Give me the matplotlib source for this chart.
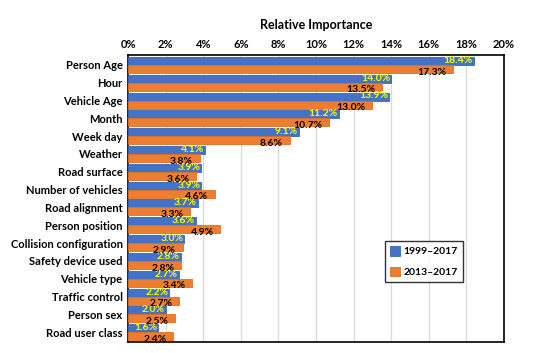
import numpy as np
import matplotlib
matplotlib.use("Agg")
import matplotlib.pyplot as plt

plt.rcParams['font.family'] = ['Lato', 'DejaVu Sans']

features = ["Person Age", "Hour", "Vehicle Age", "Month", "Week day", "Weather",
            "Road surface", "Number of vehicles", "Road alignment", "Person position",
            "Collision configuration", "Safety device used", "Vehicle type",
            "Traffic control", "Person sex", "Road user class"]
imp_all = [18.4, 14.0, 13.9, 11.2, 9.1, 4.1, 3.9, 3.9, 3.7, 3.6, 3.0, 2.8, 2.7, 2.2, 2.0, 1.6]
imp_recent = [17.3, 13.5, 13.0, 10.7, 8.6, 3.8, 3.6, 4.6, 3.3, 4.9, 2.9, 2.8, 3.4, 2.7, 2.5, 2.4]
series_names = ["1999\u20132017", "2013\u20132017"]
xticks = [0, 2, 4, 6, 8, 10, 12, 14, 16, 18, 20]

BLUE = "#4472C4"
ORANGE = "#ED7D31"

fig = plt.figure(figsize=(5.5, 3.53), dpi=100)
ax = fig.add_axes([0.233, 0.031, 0.683, 0.813])

y = np.arange(len(features))
h = 0.45
ax.barh(y - h / 2, imp_all, h, color=BLUE, edgecolor="#3A65B5", linewidth=0.6,
        label=series_names[0], zorder=3)
ax.barh(y + h / 2, imp_recent, h, color=ORANGE, edgecolor="#E07020", linewidth=0.6,
        label=series_names[1], zorder=3)

# value labels: yellow at end of blue bar, black just below end of orange bar
for yi, v in zip(y, imp_all):
    ax.text(v - 0.05, yi - h / 2 - 0.03, "%.1f%%" % v, ha="right", va="center",
            color="#FFFF00", fontsize=7.5, fontweight="bold", zorder=4)
for yi, v in zip(y, imp_recent):
    ax.text(v - 0.35, yi + h / 2 + 0.18, "%.1f%%" % v, ha="right", va="center",
            color="black", fontsize=7.5, fontweight="bold", zorder=4)

ax.set_xlim(0, 20)
ax.set_ylim(len(features) - 0.5 + 0.05, -0.55)
ax.set_yticks(y)
ax.set_yticklabels(features, fontsize=8, fontweight="bold")
ax.set_xticks(xticks)
ax.set_xticklabels(["%d%%" % t for t in xticks], fontsize=8, fontweight="bold")
ax.xaxis.tick_top()
ax.xaxis.set_label_position("top")
ax.set_xlabel("Relative Importance", fontsize=9, fontweight="bold", labelpad=7)
ax.tick_params(axis="both", length=0, pad=4)
ax.grid(True, axis="x", color="#D9D9D9", linewidth=0.9, zorder=0)
for s in ax.spines.values():
    s.set_color("black")
    s.set_linewidth(1.2)

leg = ax.legend(loc="lower right", bbox_to_anchor=(0.905, 0.19),
                frameon=True, fancybox=False, edgecolor="black", handlelength=1.0,
                handleheight=1.0, handletextpad=0.3, borderpad=0.5, labelspacing=1.0,
                prop={"weight": "bold", "size": 7.5})
leg.get_frame().set_linewidth(1.0)

fig.savefig("out.png", dpi=100)
